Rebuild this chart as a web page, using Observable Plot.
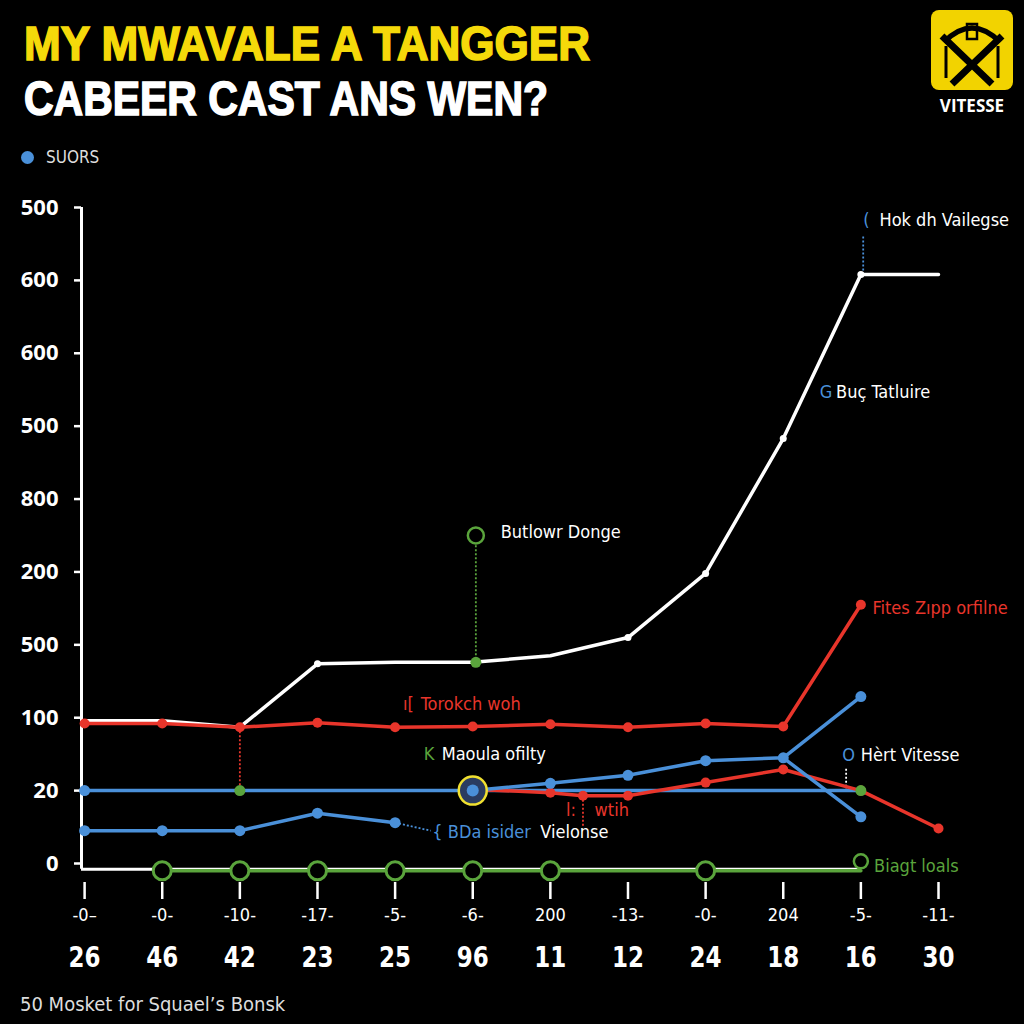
<!DOCTYPE html>
<html>
<head>
<meta charset="utf-8">
<script src="https://cdn.jsdelivr.net/npm/d3@7"></script>
<script src="https://cdn.jsdelivr.net/npm/@observablehq/plot@0.6"></script>
<style>
  html, body { margin: 0; padding: 0; background: #000; }
  body { width: 1024px; height: 1024px; position: relative; overflow: hidden; }
  .narrow { font-family: "Liberation Sans Narrow", "DejaVu Sans Condensed", "Arial Narrow", sans-serif; }
  #t1, #t2 { position: absolute; left: 24px; font-family: "Liberation Sans", Arial, sans-serif; font-weight: 700; font-size: 48px; line-height: 48px; white-space: nowrap; transform-origin: 0 0; }
  #t1 { top: 20px; color: #f5d90a; -webkit-text-stroke: 1.6px #f5d90a; }
  #t2 { top: 75px; color: #fff; -webkit-text-stroke: 1.6px #fff; }
  #legend { position: absolute; left: 21px; top: 146px; color: #ddd; font-size: 17px; line-height: 22px; display: flex; align-items: center; }
  #legend .sw { width: 13px; height: 13px; border-radius: 50%; background: #4a90d9; margin-right: 12px; }
  #chart { position: absolute; left: 0; top: 180px; }
  #caption { position: absolute; left: 20px; top: 991px; color: #ddd; font-size: 20px; line-height: 26px; }
  #logo { position: absolute; left: 926px; top: 6px; }
</style>
</head>
<body>
<div id="t1">MY MWAVALE A TANGGER</div>
<div id="t2">CABEER CAST ANS WEN?</div>
<div id="legend" class="narrow"><span class="sw"></span><span>SUORS</span></div>
<svg id="logo" width="94" height="112" viewBox="0 0 94 112">
  <rect x="5" y="4" width="82" height="80" rx="8" fill="#f2d300"/>
  <path d="M18 36 Q46 8 74 36" fill="none" stroke="#000" stroke-width="5"/>
  <rect x="41" y="18" width="10" height="15" fill="none" stroke="#000" stroke-width="2.5"/>
  <path d="M16 30 L66 78 M76 30 L26 78" stroke="#000" stroke-width="7" fill="none"/>
  <path d="M20 40 L20 72 M72 40 L72 72" stroke="#000" stroke-width="3" fill="none"/>
  <text x="46" y="106" text-anchor="middle" fill="#fff" font-family="'Open Sans', 'DejaVu Sans', sans-serif" font-weight="700" font-size="17">VITESSE</text>
</svg>
<div id="chart"></div>
<div id="caption" class="narrow">50 Mosket for Squael’s Bonsk</div>
<script>
// ---- data ----
const xIdx = [0, 1, 2, 3, 4, 5, 6, 7, 8, 9, 10, 11];
const xTopLabels = ["-0–", "-0-", "-10-", "-17-", "-5-", "-6-", "200", "-13-", "-0-", "204", "-5-", "-11-"];
const xBottomLabels = ["26", "46", "42", "23", "25", "96", "11", "12", "24", "18", "16", "30"];
const yTicks = [0, 1, 2, 3, 4, 5, 6, 7, 8, 9];
const yLabels = ["0", "20", "100", "500", "200", "800", "500", "600", "600", "500"];

const whiteX = [0, 1, 2, 3, 4, 5, 6, 7, 8, 9, 10, 11];
const whiteY = [1.96, 1.96, 1.87, 2.74, 2.76, 2.76, 2.85, 3.10, 3.98, 5.83, 8.08, 8.08];
const whiteDotX = [3, 7, 8, 9, 10];
const whiteDotY = [2.74, 3.10, 3.98, 5.83, 8.08];

const redX = [0, 1, 2, 3, 4, 5, 6, 7, 8, 9, 10];
const redY = [1.92, 1.92, 1.87, 1.93, 1.87, 1.88, 1.91, 1.87, 1.92, 1.88, 3.55];
const red2X = [5, 6, 6.42, 7, 8, 9, 10, 11];
const red2Y = [1.02, 0.97, 0.93, 0.93, 1.11, 1.29, 1.00, 0.48];

const blueFlatX = [0, 10];
const blueFlatY = [1.0, 1.0];
const blueRiseX = [5, 6, 7, 8, 9, 10];
const blueRiseY = [1.0, 1.10, 1.21, 1.41, 1.45, 2.29];
const blueFallX = [9, 10];
const blueFallY = [1.45, 0.64];
const blueLowX = [0, 1, 2, 3, 4];
const blueLowY = [0.45, 0.45, 0.45, 0.69, 0.56];

const greenLineX = [1, 10];
const greenLineY = [-0.1, -0.1];
const greenRingX = [1, 2, 3, 4, 5, 6, 8];
const greenRingY = [-0.1, -0.1, -0.1, -0.1, -0.1, -0.1, -0.1];
const greenDotX = [2, 10, 5.04];
const greenDotY = [1.0, 1.0, 2.76];

const annoText = ["Hok dh Vailegse", "(", "G", "Buç Tatluire", "Fites Zıpp orfilne", "ı[", "Torokch woh",
  "K", "Maoula ofilty", "O", "Hèrt Vitesse", "l:", "wtih", "{ BDa isider", "Vielonse", "Biagt loals", "Butlowr Donge"];
const annoX = [10.24, 10.03, 9.47, 9.68, 10.15, 4.1, 4.33, 4.37, 4.6, 9.76, 10.0, 6.2, 6.57, 4.48, 5.87, 10.17, 5.36];
const annoY = [8.82, 8.82, 6.47, 6.47, 3.50, 2.18, 2.18, 1.50, 1.50, 1.48, 1.48, 0.73, 0.73, 0.43, 0.43, -0.04, 4.55];
const annoColor = ["#fff", "#4a90d9", "#4a90d9", "#fff", "#e8352b", "#e8352b", "#e8352b",
  "#5aa43c", "#fff", "#4a90d9", "#fff", "#e8352b", "#e8352b", "#4a90d9", "#fff", "#5aa43c", "#fff"];

// dotted leader lines
const leadX1 = [5.04, 2, 6.42, 9.81, 10.03, 4.0];
const leadY1 = [4.42, 1.87, 0.93, 1.30, 8.08, 0.56];
const leadX2 = [5.04, 2, 6.42, 9.81, 10.03, 4.46];
const leadY2 = [2.76, 1.0, 0.5, 1.0, 8.62, 0.45];
const leadColor = ["#5aa43c", "#e8352b", "#e8352b", "#fff", "#4a90d9", "#4a90d9"];

const RED = "#e8352b", BLUE = "#4a90d9", GREEN = "#5aa43c";
const NARROW = "Liberation Sans Narrow, DejaVu Sans Condensed, Arial Narrow, sans-serif";

const idx = a => a.map((_, i) => i);

const chart = Plot.plot({
  width: 1024,
  height: 810,
  marginLeft: 81,
  marginRight: 86,
  marginTop: 27,
  marginBottom: 127,
  style: { background: "transparent", color: "#fff", overflow: "visible" },
  x: { domain: [-0.04, 11], axis: null },
  y: { domain: [0, 9], axis: null },
  marks: [
    Plot.axisY(yTicks, { anchor: "left", tickFormat: d => yLabels[d], tickSize: 7, tickPadding: 16,
      stroke: "#fff", strokeWidth: 2.5, fill: "#fff", fontSize: 22, fontWeight: "bold",
      fontFamily: "Open Sans, DejaVu Sans, sans-serif" }),
    Plot.ruleX([-0.04], { y1: -0.08, y2: 9.0, stroke: "#fff", strokeWidth: 3 }),
    Plot.ruleY([-0.08], { x1: -0.04, x2: 10, stroke: "#fff", strokeWidth: 3 }),
    Plot.axisX(xIdx, { anchor: "bottom", tickFormat: d => xTopLabels[d], tickSize: 17, dy: 19, tickPadding: 9,
      stroke: "#fff", strokeWidth: 2.5, fill: "#fff", fontSize: 18, fontFamily: NARROW }),
    Plot.text(xIdx, { x: d => d, text: d => xBottomLabels[d], frameAnchor: "bottom", dy: 103,
      fill: "#fff", fontSize: 29, fontWeight: "bold", fontFamily: NARROW }),

    Plot.line(greenLineX, { x: greenLineX, y: greenLineY, stroke: GREEN, strokeWidth: 3.5 }),
    Plot.dot(greenRingX, { x: greenRingX, y: greenRingY, r: 9, stroke: GREEN, strokeWidth: 3, fill: "#000" }),
    Plot.dot([10], { x: [10], y: [0.03], r: 7, stroke: GREEN, strokeWidth: 2.5, fill: "#000" }),

    Plot.link(idx(leadX1), { x1: leadX1, y1: leadY1, x2: leadX2, y2: leadY2, stroke: leadColor,
      strokeWidth: 1.8, strokeDasharray: "2,2" }),

    Plot.line(blueFlatX, { x: blueFlatX, y: blueFlatY, stroke: BLUE, strokeWidth: 3.5 }),
    Plot.line(blueLowX, { x: blueLowX, y: blueLowY, stroke: BLUE, strokeWidth: 3.5 }),
    Plot.dot(blueLowX, { x: blueLowX, y: blueLowY, r: 5.5, fill: BLUE }),
    Plot.dot([0], { x: [0], y: [1.0], r: 5.5, fill: BLUE }),

    Plot.line(whiteX, { x: whiteX, y: whiteY, stroke: "#fff", strokeWidth: 3.5 }),
    Plot.dot(whiteDotX, { x: whiteDotX, y: whiteDotY, r: 3.5, fill: "#fff" }),

    Plot.line(redX, { x: redX, y: redY, stroke: RED, strokeWidth: 3.5 }),
    Plot.dot(redX, { x: redX, y: redY, r: 5, fill: RED }),
    Plot.line(red2X, { x: red2X, y: red2Y, stroke: RED, strokeWidth: 3.5 }),
    Plot.dot(red2X, { x: red2X, y: red2Y, r: 5, fill: RED }),

    Plot.line(blueRiseX, { x: blueRiseX, y: blueRiseY, stroke: BLUE, strokeWidth: 3.5 }),
    Plot.line(blueFallX, { x: blueFallX, y: blueFallY, stroke: BLUE, strokeWidth: 3.5 }),
    Plot.dot(blueRiseX.slice(1), { x: blueRiseX.slice(1), y: blueRiseY.slice(1), r: 5.5, fill: BLUE }),
    Plot.dot(blueFallX.slice(1), { x: blueFallX.slice(1), y: blueFallY.slice(1), r: 5.5, fill: BLUE }),

    Plot.dot([5], { x: [5], y: [1.0], r: 14, stroke: "#f0e030", strokeWidth: 2.5, fill: "#2a3c60" }),
    Plot.dot([5], { x: [5], y: [1.0], r: 6, fill: BLUE }),

    Plot.dot(greenDotX, { x: greenDotX, y: greenDotY, r: 5.5, fill: GREEN }),
    Plot.dot([5.04], { x: [5.04], y: [4.5], r: 8, stroke: GREEN, strokeWidth: 2.5, fill: "#000" }),

    Plot.text(annoText, { x: annoX, y: annoY, text: annoText, fill: annoColor, textAnchor: "start",
      fontSize: 18, fontFamily: NARROW })
  ]
});
document.getElementById("chart").appendChild(chart);

// condense the big bottom-row numbers (tall but narrow in the reference)
const bottomGroup = chart.querySelectorAll('g[aria-label="text"]')[0];
if (bottomGroup) {
  bottomGroup.querySelectorAll("text").forEach(t => {
    const n = t.textContent.length;
    t.setAttribute("textLength", String(16 * n));
    t.setAttribute("lengthAdjust", "spacingAndGlyphs");
  });
}

// squeeze the heavy titles to the reference widths
[["t1", 566], ["t2", 524]].forEach(([id, w]) => {
  const el = document.getElementById(id);
  const cur = el.getBoundingClientRect().width;
  el.style.transform = `scaleX(${w / cur})`;
});
</script>
</body>
</html>
